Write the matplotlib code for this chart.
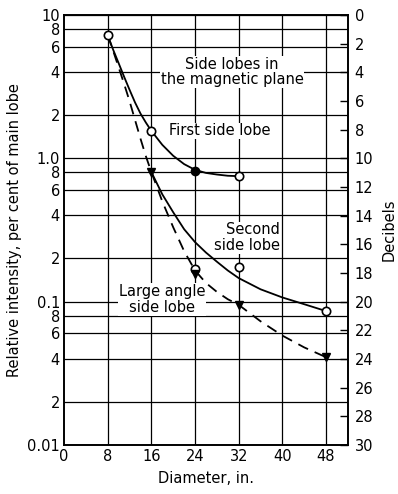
import matplotlib.pyplot as plt

# diameter (in.) vs relative intensity (per cent of main lobe)
FIRST_X = [8, 16, 24, 32]
FIRST_Y = [7.2, 1.55, 0.82, 0.75]
FIRST_CURVE_X = [8, 9, 10, 11, 12, 13, 14, 15, 16, 18, 20, 22, 24, 26, 28, 30, 32]
FIRST_CURVE_Y = [7.2, 5.7, 4.6, 3.7, 3.0, 2.45, 2.05, 1.77, 1.55, 1.24,
                 1.04, 0.91, 0.83, 0.79, 0.77, 0.755, 0.75]

SECOND_X = [24, 32, 48]
SECOND_Y = [0.17, 0.175, 0.086]
SECOND_CURVE_X = [16, 18, 20, 22, 24, 26, 28, 30, 32, 36, 40, 44, 48]
SECOND_CURVE_Y = [0.8, 0.56, 0.42, 0.32, 0.26, 0.22, 0.19, 0.165, 0.146,
                  0.122, 0.107, 0.096, 0.086]

LARGE_X = [16, 24, 32, 48]
LARGE_Y = [0.8, 0.155, 0.095, 0.041]
LARGE_CURVE_X = [8, 9, 10, 11, 12, 13, 14, 15, 16, 18, 20, 22, 24, 26, 28,
                 30, 32, 36, 40, 44, 48]
LARGE_CURVE_Y = [7.2, 5.6, 4.3, 3.3, 2.5, 1.85, 1.37, 1.03, 0.8, 0.5, 0.33,
                 0.225, 0.165, 0.135, 0.117, 0.104, 0.095, 0.073, 0.058,
                 0.048, 0.041]

Y_TICKS = [0.01, 0.02, 0.04, 0.06, 0.08, 0.1, 0.2, 0.4, 0.6, 0.8,
           1.0, 2, 4, 6, 8, 10]
Y_LABELS = ["0.01", "2", "4", "6", "8", "0.1", "2", "4", "6", "8",
            "1.0", "2", "4", "6", "8", "10"]
X_TICKS = [0, 8, 16, 24, 32, 40, 48]
DB_TICKS = list(range(0, 31, 2))

plt.rcParams['font.family'] = ['DejaVu Sans']

fig = plt.figure(figsize=(3.98, 4.94), dpi=100)
ax = fig.add_axes([0.161, 0.099, 0.713, 0.871])
ax.set_yscale('log')
ax.set_xlim(0, 52)
ax.set_ylim(0.01, 10)

for v in Y_TICKS:
    ax.axhline(v, color='black', lw=0.9, zorder=1)
for v in X_TICKS[1:]:
    ax.axvline(v, color='black', lw=0.9, zorder=1)

ax.plot(FIRST_CURVE_X, FIRST_CURVE_Y, color='black', lw=1.3, zorder=3)
ax.plot(SECOND_CURVE_X, SECOND_CURVE_Y, color='black', lw=1.3, zorder=3)
ax.plot(LARGE_CURVE_X, LARGE_CURVE_Y, color='black', lw=1.3,
        dashes=(6, 4), zorder=3)

ax.plot([8, 16, 32], [7.2, 1.55, 0.75], 'o', mfc='white', mec='black',
        ms=6, mew=1.2, zorder=5)
ax.plot([24], [0.82], 'o', color='black', ms=6, zorder=5)
ax.plot(SECOND_X, SECOND_Y, 'o', mfc='white', mec='black', ms=6,
        mew=1.2, zorder=5)
ax.plot(LARGE_X, LARGE_Y, 'v', color='black', ms=6, zorder=5)

ax.set_xticks(X_TICKS)
ax.set_yticks(Y_TICKS)
ax.set_yticklabels(Y_LABELS)
ax.yaxis.set_minor_locator(plt.NullLocator())
ax.tick_params(axis='both', length=0, labelsize=10.5, pad=3)
ax.set_xlabel("Diameter, in.", fontsize=10.5, labelpad=5)
ax.set_ylabel("Relative intensity, per cent of main lobe", fontsize=10.5,
              labelpad=4)
for s in ax.spines.values():
    s.set_linewidth(1.2)

box = dict(facecolor='white', edgecolor='none', pad=0.5)
ax.text(30.8, 4.0, "Side lobes in\nthe magnetic plane", ha='center',
        va='center', fontsize=10.5, linespacing=1.05, bbox=box, zorder=4)
ax.text(28.6, 1.55, "First side lobe", ha='center', va='center',
        fontsize=10.5, bbox=box, zorder=4)
ax.text(39.6, 0.28, "Second\nside lobe", ha='right', va='center',
        fontsize=10.5, linespacing=1.05, bbox=box, zorder=4)
ax.text(17.9, 0.1035, "Large angle\nside lobe", ha='center', va='center',
        fontsize=10.5, linespacing=1.05, bbox=box, zorder=4)

# decibel scale on the right, 0 dB at 10 per cent
ax2 = ax.twinx()
ax2.set_ylim(30, 0)
ax2.set_yticks(DB_TICKS)
ax2.tick_params(axis='y', direction='in', length=6, width=1, labelsize=10.5,
                pad=5)
ax2.set_ylabel("Decibels", fontsize=10.5, labelpad=6)
for s in ax2.spines.values():
    s.set_linewidth(1.2)

fig.savefig("out.png", dpi=100)
